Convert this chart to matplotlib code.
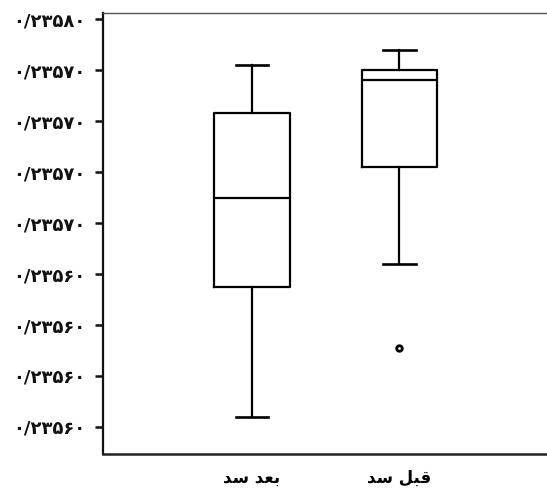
import matplotlib
matplotlib.use("Agg")
import matplotlib.pyplot as plt

# ---- data ----
categories = ["بعد سد", "قبل سد"]
whisker_high = [0.235782, 0.235788]
q3_values = [0.235763, 0.235780]
median_values = [0.235730, 0.235776]
q1_values = [0.235695, 0.235742]
whisker_low = [0.235644, 0.235704]
outlier_values = [[], [0.235671]]

tick_values = [0.23580, 0.23578, 0.23576, 0.23574, 0.23572,
               0.23570, 0.23568, 0.23566, 0.23564]
tick_labels = ["۰/۲۳۵۸۰", "۰/۲۳۵۷۰", "۰/۲۳۵۷۰", "۰/۲۳۵۷۰", "۰/۲۳۵۷۰",
               "۰/۲۳۵۶۰", "۰/۲۳۵۶۰", "۰/۲۳۵۶۰", "۰/۲۳۵۶۰"]

# ---- minimal Arabic shaping (matplotlib has no complex text layout) ----
FORMS = {
    'ب': ('\uFE8F', '\uFE90', '\uFE91', '\uFE92'),
    'ع': ('\uFEC9', '\uFECA', '\uFECB', '\uFECC'),
    'د': ('\uFEA9', '\uFEAA', None, None),
    'س': ('\uFEB1', '\uFEB2', '\uFEB3', '\uFEB4'),
    'ق': ('\uFED5', '\uFED6', '\uFED7', '\uFED8'),
    'ل': ('\uFEDD', '\uFEDE', '\uFEDF', '\uFEE0'),
}


def shape(s):
    out = []
    for i, c in enumerate(s):
        if c not in FORMS:
            out.append(c)
            continue
        prev = s[i - 1] if i > 0 else None
        nxt = s[i + 1] if i + 1 < len(s) else None
        jp = prev in FORMS and FORMS[prev][2] is not None
        jn = FORMS[c][2] is not None and nxt in FORMS
        idx = 3 if (jp and jn) else 1 if jp else 2 if jn else 0
        out.append(FORMS[c][idx])
    return ''.join(reversed(out))


stats = []
for i, cat in enumerate(categories):
    stats.append(dict(med=median_values[i], q1=q1_values[i], q3=q3_values[i],
                      whislo=whisker_low[i], whishi=whisker_high[i],
                      fliers=outlier_values[i], label=shape(cat)))

fig = plt.figure(figsize=(5.47, 4.93), dpi=100)
fig.patch.set_facecolor('white')
ax = fig.add_axes([103 / 547, 39 / 493, 444 / 547, 441 / 493])

lw = 1.6
ax.bxp(stats, positions=[1, 2], widths=0.515, capwidths=0.22,
       boxprops=dict(color='black', linewidth=lw),
       medianprops=dict(color='black', linewidth=lw),
       whiskerprops=dict(color='black', linewidth=lw),
       capprops=dict(color='black', linewidth=lw + 0.3),
       flierprops=dict(marker='o', markersize=4, markerfacecolor='white',
                       markeredgecolor='black', markeredgewidth=2.0),
       showfliers=True)

ax.set_xlim(-0.01, 3.0)
ax.set_ylim(0.2356294, 0.2358024)
ax.set_yticks(tick_values)
ax.set_yticklabels(tick_labels, fontsize=13, fontweight='bold',
                   family=['DejaVu Sans'])
for lab in ax.get_xticklabels():
    lab.set_fontsize(12)
    lab.set_fontweight('bold')
ax.tick_params(axis='y', length=6, width=1.8, pad=7, colors='#111111')
ax.tick_params(axis='x', length=0, pad=11)

ax.spines['right'].set_visible(False)
ax.spines['left'].set_linewidth(1.6)
ax.spines['bottom'].set_linewidth(1.8)
ax.spines['left'].set_color('#111111')
ax.spines['bottom'].set_color('#222222')
ax.spines['top'].set_linewidth(1.0)
ax.spines['top'].set_color('#555555')

fig.savefig('out.png', dpi=100, facecolor='white')
